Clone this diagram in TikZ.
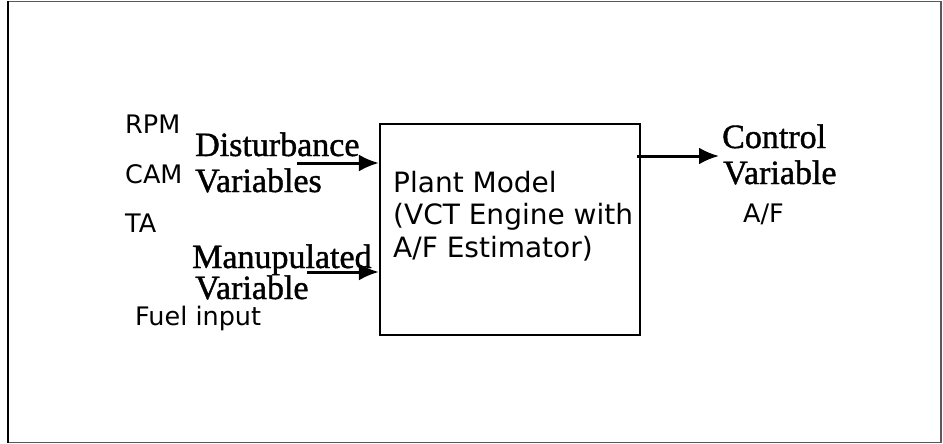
\documentclass[tikz,border=0pt]{standalone}
\usepackage{fontspec}
\setmainfont{Liberation Serif}
\newfontfamily\serfont{Liberation Serif}[BoldFont={Liberation Serif},BoldFeatures={FakeBold=1.2}]
\newfontfamily\handfont{DejaVu Sans}
\usetikzlibrary{arrows.meta}
\begin{document}
\begin{tikzpicture}[x=1pt,y=-1pt,
  serlabel/.style={anchor=base west,inner sep=0pt,font=\serfont\bfseries\fontsize{34}{38}\selectfont},
  handlabel/.style={anchor=base west,inner sep=0pt,font=\handfont\fontsize{25.5}{28}\selectfont},
  flow/.style={line width=3pt,-{Latex[length=20pt,width=17pt]}},
  plantbox/.style={draw,line width=2.2pt,minimum width=260pt,minimum height=211pt,inner sep=0pt}]
\useasboundingbox (0,0) rectangle (943,444);
\draw[gray!70!black,line width=1.4pt] (8,1.5) rectangle (941,442.5);
\draw[black,line width=1.8pt] (8,1.5) -- (8,442.5);

\node[plantbox] (box) at (510,229.5) {};
\node[anchor=base west,inner sep=0pt,align=left,
      font=\handfont\fontsize{28}{32.5}\selectfont] (plant) at (393,257)
  {Plant Model\\(VCT Engine with\\A/F Estimator)};

\node[handlabel] (rpm) at (125,133) {RPM};
\node[handlabel] (cam) at (125,183) {CAM};
\node[handlabel] (ta) at (125,232) {TA};
\node[handlabel] (fuel) at (135,325) {Fuel input};

\node[serlabel] (dist1) at (195,156) {Disturbance};
\node[serlabel] (dist2) at (195,192) {Variables};
\node[serlabel] (man1) at (192,268) {Manupulated};
\node[serlabel] (man2) at (195,299) {Variable};

\node[serlabel] (ctl1) at (722,148) {Control};
\node[serlabel] (ctl2) at (723,184) {Variable};
\node[handlabel] (af) at (743,222) {A/F};

\coordinate (dstart) at (297,163);
\coordinate (mstart) at (307,272);
\coordinate (ostart) at (637,156);
\coordinate (oend) at (719,156);
\draw[flow] (dstart) -- (dstart -| box.west);
\draw[flow] (mstart) -- (mstart -| box.west);
\draw[flow] (ostart) -- (oend);
\end{tikzpicture}
\end{document}
